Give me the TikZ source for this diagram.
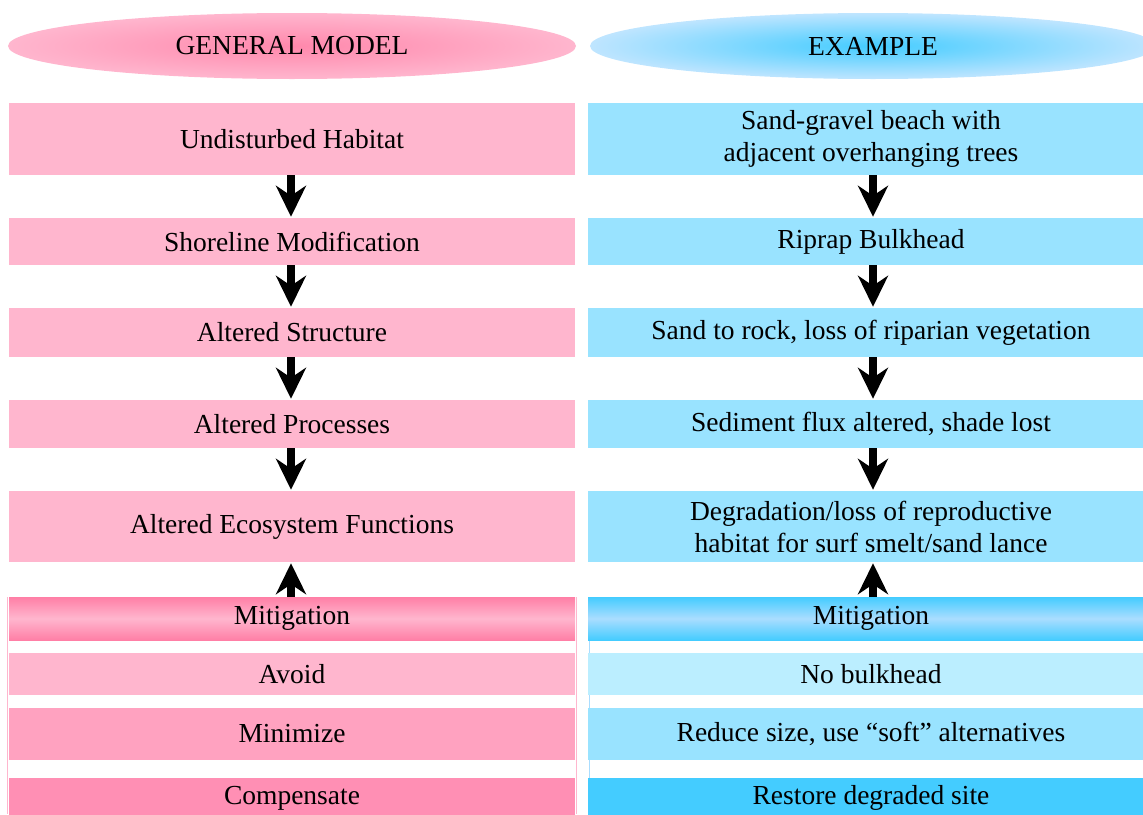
\documentclass[tikz,border=0pt]{standalone}
\usepackage{fontspec}
\setmainfont{Liberation Serif}
\usetikzlibrary{arrows.meta,shapes.geometric}
\definecolor{pinkbox}{HTML}{FFB6CE}
\definecolor{pinkdark}{HTML}{FF7FA6}
\definecolor{pinkmin}{HTML}{FFA2C0}
\definecolor{pinkcomp}{HTML}{FF8FB4}
\definecolor{pinkhdr}{HTML}{FF88AC}
\definecolor{bluebox}{HTML}{99E3FF}
\definecolor{blueavoid}{HTML}{BBEEFF}
\definecolor{bluedark}{HTML}{44CCFF}
\definecolor{bluemid}{HTML}{AADDFF}
\definecolor{bluehdrout}{HTML}{BFE5FF}
\tikzset{
  txt/.style={font=\fontsize{27.5}{32}\selectfont, align=center, inner sep=0pt, text=black},
  lbox/.style={txt, fill=pinkbox, minimum width=566pt},
  rbox/.style={txt, fill=bluebox, minimum width=566pt},
  flow/.style={line width=8pt, -{Stealth[length=31pt,width=30pt,inset=10pt]}, shorten >=1pt},
}
\begin{document}
\begin{tikzpicture}[x=1pt,y=-1pt]
\useasboundingbox (0,0) rectangle (1143,814);
\clip (0,0) rectangle (1143,814);
% headers
\node[ellipse, minimum width=568pt, minimum height=66pt, inner color=pinkhdr, outer color=pinkbox, txt] (hl) at (292,46) {GENERAL MODEL};
\node[ellipse, minimum width=566pt, minimum height=66pt, inner color=bluedark, outer color=bluehdrout, txt] (hr) at (873,46) {EXAMPLE};
% left column
\node[lbox, minimum height=72pt] (l1) at (292,139) {Undisturbed Habitat};
\node[lbox, minimum height=47pt] (l2) at (292,241.5) {Shoreline Modification};
\node[lbox, minimum height=49pt] (l3) at (292,332.5) {Altered Structure};
\node[lbox, minimum height=48pt] (l4) at (292,424) {Altered Processes};
\node[lbox, minimum height=71pt] (l5) at (292,526.5) {Altered Ecosystem Functions};
% right column
\node[rbox, minimum height=72pt] (r1) at (871,139) {Sand-gravel beach with\\adjacent overhanging trees};
\node[rbox, minimum height=47pt] (r2) at (871,241.5) {Riprap Bulkhead};
\node[rbox, minimum height=49pt] (r3) at (871,332.5) {Sand to rock, loss of riparian vegetation};
\node[rbox, minimum height=48pt] (r4) at (871,424) {Sediment flux altered, shade lost};
\node[rbox, minimum height=71pt] (r5) at (871,526.5) {Degradation/loss of reproductive\\habitat for surf smelt/sand lance};
% mitigation panels
\draw[pinkbox, line width=1pt] (7.5,597) -- (7.5,814) (576.5,597) -- (576.5,814);
\draw[bluemid, line width=1.5pt] (589.5,597) -- (589.5,814);
\node[lbox, minimum height=43pt, top color=pinkdark, bottom color=pinkdark, middle color=pinkbox] (lm) at (292,618.5) {Mitigation};
\node[lbox, minimum height=42pt] (la) at (292,674) {Avoid};
\node[lbox, minimum height=52pt, fill=pinkmin] (lmin) at (292,734) {Minimize};
\node[lbox, minimum height=40pt, fill=pinkcomp] (lc) at (292,798) {Compensate};
\node[rbox, minimum height=43pt, top color=bluedark, bottom color=bluedark, middle color=bluemid] (rm) at (871,618.5) {Mitigation};
\node[rbox, minimum height=42pt, fill=blueavoid] (ra) at (871,674) {No bulkhead};
\node[rbox, minimum height=52pt, fill=bluebox] (rmin) at (871,734) {Reduce size, use “soft” alternatives};
\node[rbox, minimum height=40pt, fill=bluedark] (rc) at (871,798) {Restore degraded site};
% arrows
\foreach \a/\b in {l1/l2,l2/l3,l3/l4,l4/l5}{
  \draw[flow] (\a.south -| 291,0) -- (\b.north -| 291,0);
}
\foreach \a/\b in {r1/r2,r2/r3,r3/r4,r4/r5}{
  \draw[flow] (\a.south -| 873,0) -- (\b.north -| 873,0);
}
\draw[flow] (lm.north -| 291,0) -- (l5.south -| 291,0);
\draw[flow] (rm.north -| 873,0) -- (r5.south -| 873,0);
\end{tikzpicture}
\end{document}
